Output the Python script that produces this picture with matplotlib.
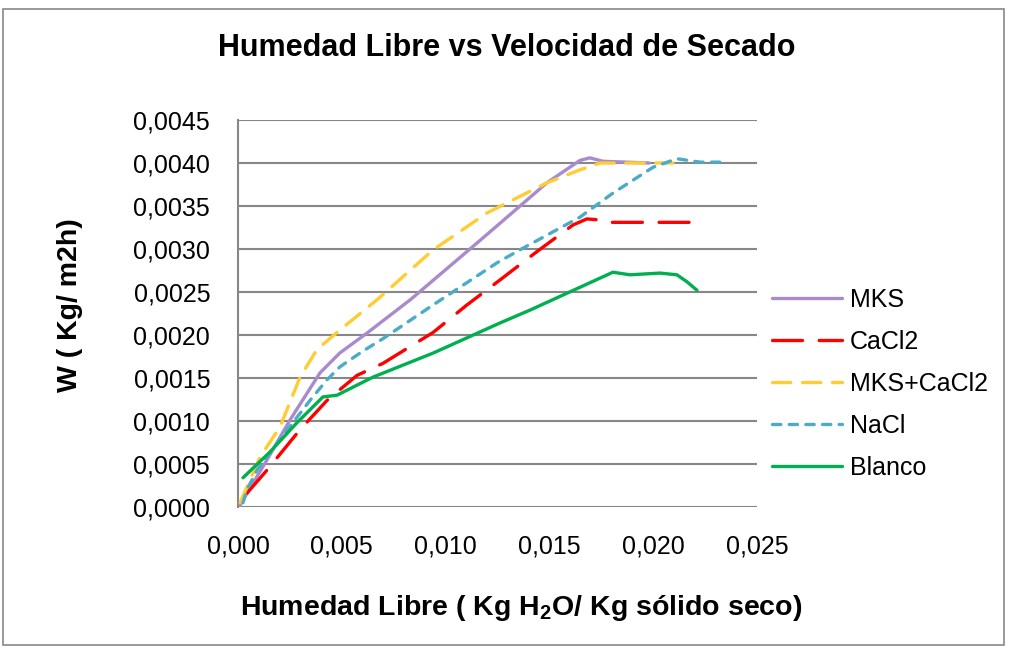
import matplotlib
matplotlib.use("Agg")
import matplotlib.pyplot as plt
from matplotlib.patches import Rectangle
from matplotlib.ticker import FuncFormatter

# Data (x: Humedad libre, y: W)
mks_x = [0.0001, 0.00024, 0.0014, 0.0025, 0.00395, 0.0049, 0.0062, 0.0083, 0.01166, 0.01373, 0.01488, 0.01647, 0.01695, 0.01758, 0.0198]
mks_y = [0.00002, 0.00008, 0.00055, 0.00101, 0.00156, 0.00179, 0.00202, 0.00241, 0.0031, 0.00353, 0.00377, 0.00403, 0.00406, 0.00402, 0.0040]

cacl2_x = [0.00043, 0.0014, 0.00299, 0.00429, 0.00573, 0.00698, 0.0094, 0.01103, 0.01262, 0.0144, 0.01614, 0.01681, 0.0173, 0.01778, 0.02225]
cacl2_y = [0.00016, 0.00043, 0.0009, 0.00124, 0.00153, 0.00167, 0.00203, 0.00235, 0.00264, 0.00297, 0.00328, 0.00335, 0.00334, 0.00331, 0.00331]

mkscacl2_x = [0.0001, 0.00106, 0.00202, 0.00299, 0.0038, 0.00477, 0.0067, 0.0094, 0.012, 0.01488, 0.01647, 0.01744, 0.02095]
mkscacl2_y = [0.00005, 0.00058, 0.00093, 0.00151, 0.00183, 0.00203, 0.00241, 0.00299, 0.00342, 0.00377, 0.00392, 0.0040, 0.0040]

nacl_x = [0.00024, 0.00043, 0.00092, 0.002, 0.00347, 0.00429, 0.00491, 0.0060, 0.0070, 0.0094, 0.01248, 0.01358, 0.01647, 0.01806, 0.01999, 0.02114, 0.02225, 0.02336]
nacl_y = [0.00005, 0.0002, 0.00043, 0.00078, 0.00124, 0.00148, 0.00163, 0.00181, 0.00196, 0.00235, 0.00284, 0.00299, 0.00337, 0.00365, 0.00395, 0.00405, 0.00401, 0.00401]

blanco_x = [0.00024, 0.00154, 0.00284, 0.00409, 0.00477, 0.0065, 0.0094, 0.01262, 0.01407, 0.01806, 0.01888, 0.02033, 0.02114, 0.02162, 0.02211]
blanco_y = [0.00034, 0.00064, 0.00098, 0.00128, 0.0013, 0.00151, 0.00179, 0.00214, 0.00229, 0.00273, 0.0027, 0.00272, 0.0027, 0.00262, 0.00252]

series_names = ["MKS", "CaCl2", "MKS+CaCl2", "NaCl", "Blanco"]
x_ticks = [0, 0.005, 0.010, 0.015, 0.020, 0.025]
y_ticks = [0.0, 0.0005, 0.0010, 0.0015, 0.0020, 0.0025, 0.0030, 0.0035, 0.0040, 0.0045]

plt.rcParams['font.family'] = ['Liberation Sans', 'DejaVu Sans']
plt.rcParams['mathtext.fontset'] = 'custom'
plt.rcParams['mathtext.rm'] = 'Liberation Sans'
plt.rcParams['mathtext.bf'] = 'Liberation Sans:bold'

fig = plt.figure(figsize=(10.11, 6.53), dpi=100)
fig.patches.append(Rectangle((3/1011, 8/653), 1001/1011, 636/653, transform=fig.transFigure,
                             fill=False, edgecolor='#888888', linewidth=1.2))

ax = fig.add_axes([238/1011, 1-507/653, 519/1011, 387/653])

lw = 2.4
ax.plot(mks_x, mks_y, color='#A98BCB', lw=lw, label=series_names[0], solid_capstyle='round', zorder=3)
ax.plot(cacl2_x, cacl2_y, color='#FF0000', lw=lw, label=series_names[1], dashes=(9, 5), dash_capstyle='round', zorder=3)
ax.plot(mkscacl2_x, mkscacl2_y, color='#FFCC33', lw=lw, label=series_names[2], dashes=(5.5, 3.5), dash_capstyle='round', zorder=3)
ax.plot(nacl_x, nacl_y, color='#4BACC6', lw=lw, label=series_names[3], dashes=(2.5, 2.5), dash_capstyle='round', zorder=3)
ax.plot(blanco_x, blanco_y, color='#00B050', lw=lw, label=series_names[4], solid_capstyle='round', zorder=3)

ax.set_xlim(0, 0.025)
ax.set_ylim(0, 0.0045)
ax.set_xticks(x_ticks)
ax.set_yticks(y_ticks)
ax.xaxis.set_major_formatter(FuncFormatter(lambda v, p: f"{v:.3f}".replace('.', ',')))
ax.yaxis.set_major_formatter(FuncFormatter(lambda v, p: f"{v:.4f}".replace('.', ',')))
ax.tick_params(axis='both', length=0, labelsize=18, colors='black')
ax.tick_params(axis='x', pad=20)
ax.tick_params(axis='y', pad=20)
ax.grid(axis='y', color='#878787', linewidth=1.5)
ax.set_axisbelow(True)
for s in ['top', 'right', 'bottom']:
    ax.spines[s].set_visible(False)
ax.spines['left'].set_color('#878787')
ax.spines['left'].set_linewidth(1.5)

fig.text(507/1011, 1-48/653, "Humedad Libre vs Velocidad de Secado", ha='center', va='center',
         fontsize=22, fontweight='bold')
fig.text(70/1011, 1-305/653, "W ( Kg/ m2h)", ha='center', va='center', rotation=90,
         fontsize=20.5, fontweight='bold')
fig.text(521/1011, 1-608/653, r"Humedad Libre ( Kg H$_\mathbf{2}$O/ Kg sólido seco)", ha='center', va='center',
         fontsize=20.5, fontweight='bold')

leg = ax.legend(loc='center left', bbox_to_anchor=(772/1011, 1-384/653), bbox_transform=fig.transFigure,
                frameon=False, fontsize=18, handlelength=2.8, labelspacing=0.72, handletextpad=0.32,
                borderpad=0, borderaxespad=0)

fig.savefig("out.png", dpi=100)
